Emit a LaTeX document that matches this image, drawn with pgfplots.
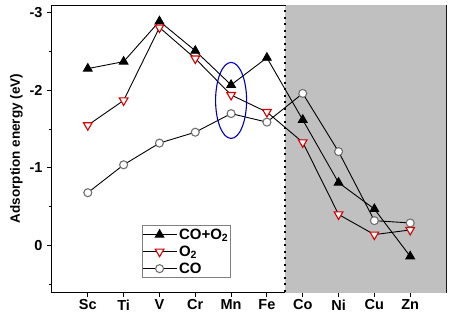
\documentclass[border=0pt]{standalone}
\usepackage{pgfplots}
\pgfplotsset{compat=1.18}
\usepackage{fontspec}
\setmainfont{Liberation Sans}
\definecolor{shade}{HTML}{C0C0C0}
\definecolor{myred}{HTML}{D40000}
\definecolor{mygray}{HTML}{707070}
\begin{document}
\begin{tikzpicture}
\begin{axis}[
  scale only axis,
  width=394pt, height=287pt,
  xmin=0, xmax=11,
  ymin=-3.1, ymax=0.6,
  y dir=reverse,
  axis line style={line width=1pt},
  xtick={1,2,3,4,5,6,7,8,9,10},
  xticklabels={Sc,Ti,V,Cr,Mn,Fe,Co,Ni,Cu,Zn},
  ytick={-3,-2,-1,0},
  yticklabels={-3,-2,-1,0},
  minor ytick={-2.5,-1.5,-0.5,0.5},
  tick align=outside,
  tick pos=left,
  major tick length=5pt,
  minor tick length=3pt,
  tick style={line width=1pt, black},
  ticklabel style={font=\fontsize{14.5}{17}\selectfont\bfseries},
  yticklabel style={xshift=-1pt},
  xticklabel style={yshift=1pt},
  ylabel={Adsorption energy (eV)},
  ylabel style={font=\fontsize{13.5}{16}\selectfont\bfseries, yshift=0pt},
  legend style={at={(0.228,0.049)}, anchor=south west, draw=gray, line width=0.6pt,
    font=\fontsize{15}{18}\selectfont\bfseries, row sep=1pt, inner xsep=0pt, inner ysep=1pt},
  legend cell align=left,
  legend image code/.code={\draw[mark repeat=2,mark phase=2,#1] plot coordinates {(0pt,0pt) (17pt,0pt) (34pt,0pt)};},
]
\addplot[fill=shade, draw=none, forget plot] coordinates {(6.5,-3.2) (11.1,-3.2) (11.1,0.7) (6.5,0.7)} -- cycle;
\draw[black, line width=2pt, dash pattern=on 2pt off 4.5pt] (axis cs:6.5,-3.2) -- (axis cs:6.5,0.7);

\addplot[black, line width=0.9pt, mark=triangle*, mark size=5pt, mark options={fill=black, draw=black}]
coordinates {(1,-2.28) (2,-2.37) (3,-2.89) (4,-2.51) (5,-2.07) (6,-2.42) (7,-1.62) (8,-0.81) (9,-0.47) (10,0.14)};
\addlegendentry{CO+O$_\mathbf{2}$}

\addplot[black, line width=0.9pt, mark=triangle*, mark size=5pt, mark options={rotate=180, fill=white, draw=myred, line width=1.1pt}]
coordinates {(1,-1.55) (2,-1.87) (3,-2.81) (4,-2.41) (5,-1.94) (6,-1.72) (7,-1.33) (8,-0.40) (9,-0.14) (10,-0.20)};
\addlegendentry{O$_\mathbf{2}$}

\addplot[black, line width=0.9pt, mark=*, mark size=4pt, mark options={fill=white, draw=mygray, line width=1.1pt}]
coordinates {(1,-0.68) (2,-1.04) (3,-1.32) (4,-1.46) (5,-1.70) (6,-1.59) (7,-1.96) (8,-1.21) (9,-0.32) (10,-0.29)};
\addlegendentry{CO}

\draw[blue!70!black, line width=1.1pt] (axis cs:5,-1.87) ellipse [x radius=15.5pt, y radius=38pt];
\coordinate (bl) at (rel axis cs:0,0);
\end{axis}
\pgfresetboundingbox
\path[use as bounding box] ([xshift=-52pt,yshift=-24pt]bl) rectangle ++(454pt,316pt);
\end{tikzpicture}
\end{document}
